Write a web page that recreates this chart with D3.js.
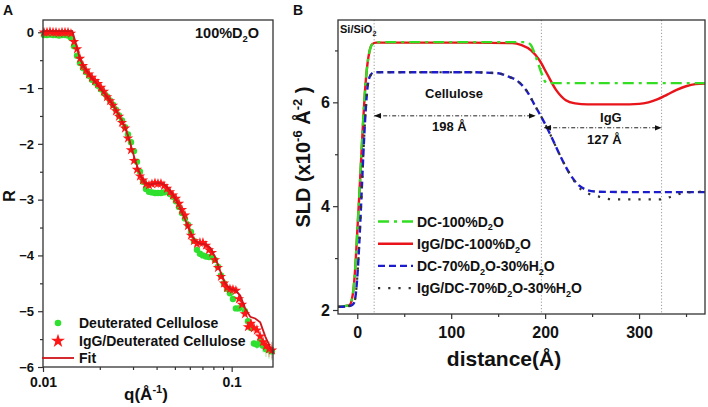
<!DOCTYPE html>
<html><head><meta charset="utf-8">
<script src="https://cdn.jsdelivr.net/npm/d3@7"></script>
<style>
body{margin:0;background:#fff}
text{font-family:"Liberation Sans",Arial,sans-serif;font-weight:bold;fill:#111}
</style>
</head><body>
<svg id="c" width="708" height="407"></svg>
<script>
// ---------- Panel A data (reflectivity, log q) ----------
const qValues = [0.01012,0.01050,0.01089,0.01130,0.01172,0.01216,0.01261,0.01308,0.01357,0.01407,0.01460,0.01514,0.01570,0.01629,0.01690,0.01753,0.01818,0.01886,0.01956,0.02029,0.02105,0.02183,0.02265,0.02349,0.02437,0.02528,0.02622,0.02720,0.02821,0.02926,0.03035,0.03148,0.03266,0.03387,0.03514,0.03645,0.03781,0.03922,0.04068,0.04219,0.04377,0.04540,0.04709,0.04885,0.05067,0.05256,0.05451,0.05655,0.05865,0.06084,0.06311,0.06546,0.06790,0.07043,0.07306,0.07578,0.07861,0.08154,0.08458,0.08773,0.09100,0.09439,0.09791,0.1016,0.1053,0.1093,0.1134,0.1176,0.1220,0.1265,0.1312,0.1361,0.1413,0.1465,0.1520,0.1577,0.1635];
const deuteratedR = [-0.05,-0.05,-0.04,-0.05,-0.05,-0.06,-0.05,-0.05,-0.06,-0.1,-0.25,-0.42,-0.55,-0.64,-0.71,-0.78,-0.85,-0.9,-0.96,-1.02,-1.09,-1.15,-1.22,-1.3,-1.39,-1.49,-1.58,-1.7,-1.83,-1.97,-2.13,-2.32,-2.5,-2.68,-2.81,-2.86,-2.87,-2.88,-2.88,-2.88,-2.87,-2.86,-2.9,-2.95,-3.03,-3.13,-3.24,-3.34,-3.45,-3.58,-3.74,-3.9,-3.97,-4.0,-4.02,-4.03,-4.03,-4.08,-4.2,-4.36,-4.5,-4.6,-4.68,-4.78,-4.95,-4.95,-4.9,-5.0,-5.18,-5.3,-5.58,-5.6,-5.55,-5.62,-5.68,-5.7,-5.72];
const iggR = [0.0,0.0,0.01,0.0,0.0,-0.01,0.0,0.0,0.0,-0.02,-0.17,-0.3,-0.47,-0.6,-0.68,-0.75,-0.81,-0.87,-0.92,-0.99,-1.06,-1.16,-1.23,-1.31,-1.41,-1.51,-1.62,-1.72,-1.9,-2.11,-2.3,-2.46,-2.58,-2.65,-2.72,-2.74,-2.72,-2.7,-2.71,-2.71,-2.75,-2.8,-2.86,-2.92,-2.98,-3.07,-3.18,-3.28,-3.47,-3.64,-3.74,-3.79,-3.77,-3.77,-3.82,-3.9,-3.95,-4.08,-4.22,-4.38,-4.5,-4.58,-4.6,-4.61,-4.63,-4.78,-4.88,-5.05,-5.28,-5.22,-5.3,-5.34,-5.45,-5.55,-5.62,-5.68,-5.7];
// error bars for the last points of each data set
const iggErrTail = [0.05,0.06,0.08,0.08,0.1,0.1,0.12,0.12,0.14,0.15];
const deutErrTail = [0.05,0.06,0.08,0.1,0.12,0.14,0.15,0.16];
const fitQ = [0.0100,0.0143,0.0148,0.0156,0.0163,0.0177,0.0201,0.0226,0.0244,0.0256,0.0272,0.0289,0.0307,0.0327,0.0347,0.0369,0.0393,0.0417,0.0444,0.0472,0.0501,0.0533,0.0567,0.0602,0.0640,0.0681,0.0723,0.0769,0.0817,0.0869,0.0924,0.0982,0.1044,0.1110,0.1179,0.1254,0.1333,0.1417,0.1506,0.1601,0.1656];
const fitR = [0.02,0.02,-0.15,-0.45,-0.6,-0.77,-1.0,-1.22,-1.4,-1.52,-1.7,-1.97,-2.28,-2.55,-2.7,-2.73,-2.71,-2.7,-2.74,-2.84,-2.97,-3.15,-3.36,-3.58,-3.74,-3.79,-3.8,-3.86,-4.03,-4.28,-4.5,-4.6,-4.62,-4.72,-4.95,-5.1,-5.13,-5.2,-5.45,-5.65,-5.76];
const aYTicks = [0,-1,-2,-3,-4,-5,-6];
const aXTicks = [0.01,0.1];
const aXTickLabels = ["0.01","0.1"];

// ---------- Panel B data (SLD profiles) ----------
const dcD2oX = [-20.5,-12,-8,-6,-4,-2,0,2,4,6,8,10,13,16,20,60,120,180,185,188,192,196,200,203,250,300,370.2];
const dcD2oY = [2.06,2.08,2.1,2.18,2.4,2.85,3.5,4.15,4.85,5.55,6.15,6.6,6.98,7.12,7.16,7.16,7.16,7.16,7.1,6.98,6.78,6.57,6.4,6.37,6.37,6.37,6.37];
const iggD2oX = [-20.5,-12,-8,-6,-4,-2,0,2,4,6,8,10,13,16,20,60,120,165,175,185,194,202,212,222,232,245,280,300,310,320,330,340,350,360,370.2];
const iggD2oY = [2.06,2.08,2.1,2.18,2.4,2.85,3.5,4.15,4.85,5.55,6.15,6.6,6.98,7.12,7.15,7.15,7.15,7.14,7.1,7.0,6.81,6.55,6.23,6.04,5.98,5.96,5.96,5.97,6.0,6.06,6.15,6.24,6.31,6.35,6.36];
const dcMixX = [-20.5,-12,-6,-3,-1,1,3,5,7,9,11,14,18,60,120,150,160,170,180,190,196,205,215,226,236,245,255,300,370.2];
const dcMixY = [2.06,2.07,2.09,2.15,2.4,2.9,3.6,4.4,5.2,5.85,6.3,6.52,6.58,6.58,6.58,6.56,6.5,6.42,6.23,5.91,5.72,5.4,5.01,4.63,4.4,4.31,4.28,4.27,4.27];
const iggMixX = [-20.5,-12,-6,-3,-1,1,3,5,7,9,11,14,18,60,120,150,160,170,180,190,196,205,215,226,236,245,258,272,300,322,330,338,346,355,370.2];
const iggMixY = [2.06,2.07,2.09,2.15,2.4,2.9,3.6,4.4,5.2,5.85,6.3,6.52,6.58,6.58,6.58,6.56,6.5,6.42,6.23,5.91,5.72,5.4,5.01,4.63,4.36,4.25,4.18,4.13,4.13,4.13,4.16,4.21,4.25,4.27,4.28];
const bXTicks = [0,100,200,300];
const bXMinor = [50,150,250,350];
const bYTicks = [2,4,6];
const bYMinor = [3,5,7];
const layerBounds = [18,196,324];
const celluloseThickness = "198 Å";
const iggThickness = "127 Å";

const svg = d3.select("#c");
const FONT = '"Liberation Sans",Arial,sans-serif';

function rich(g, x, y, parts, size, anchor){
  const t = g.append("text").attr("x",x).attr("y",y).attr("font-size",size)
    .attr("text-anchor",anchor||"start");
  let shift = 0;
  parts.forEach(p=>{
    const s = p[0], k = p[1];
    const target = k==="sup" ? -size*0.42 : (k==="sub" ? size*0.28 : 0);
    t.append("tspan").attr("dy", target-shift).attr("font-size", k ? size*0.65 : size).text(s);
    shift = target;
  });
  return t;
}
function styleAxis(g){
  g.selectAll(".domain").remove();
  g.selectAll(".tick line").attr("stroke","#333").attr("stroke-width",1.2);
  g.selectAll("text").attr("fill","#111").style("font-family",FONT).style("font-weight","bold");
}

// ================= Panel A =================
const xA = d3.scaleLog().domain([0.01,0.1656]).range([43,273]);
const yA = d3.scaleLinear().domain([-6,0.22]).range([367,20]);
const gA = svg.append("g");

const axAy = gA.append("g").attr("transform","translate(43,0)")
  .call(d3.axisLeft(yA).tickValues(aYTicks).tickSize(5).tickPadding(4).tickFormat(d3.format("d")));
axAy.selectAll("text").attr("font-size",13);
styleAxis(axAy);
const axAyMinor = gA.append("g").attr("transform","translate(43,0)")
  .call(d3.axisLeft(yA).tickValues(d3.range(-5.5,0.1,1)).tickSize(3).tickFormat(""));
styleAxis(axAyMinor);
const axAx = gA.append("g").attr("transform","translate(0,367)")
  .call(d3.axisBottom(xA).tickValues(aXTicks).tickSize(5).tickPadding(5).tickFormat((d,i)=>aXTickLabels[i]));
axAx.selectAll("text").attr("font-size",14);
styleAxis(axAx);
const axAxMinor = gA.append("g").attr("transform","translate(0,367)")
  .call(d3.axisBottom(xA).tickValues([0.02,0.03,0.04,0.05,0.06,0.07,0.08,0.09]).tickSize(3).tickFormat(""));
styleAxis(axAxMinor);

// error bars
const nQ = qValues.length;
deutErrTail.forEach((e,i)=>{
  const idx = nQ - deutErrTail.length + i;
  gA.append("line").attr("x1",xA(qValues[idx])).attr("x2",xA(qValues[idx]))
    .attr("y1",yA(deuteratedR[idx]-e)).attr("y2",yA(deuteratedR[idx]+e))
    .attr("stroke","#8fe88f").attr("stroke-width",0.8);
});
iggErrTail.forEach((e,i)=>{
  const idx = nQ - iggErrTail.length + i;
  gA.append("line").attr("x1",xA(qValues[idx])).attr("x2",xA(qValues[idx]))
    .attr("y1",yA(iggR[idx]-e)).attr("y2",yA(iggR[idx]+e))
    .attr("stroke","#f08080").attr("stroke-width",0.8);
});

gA.append("g").selectAll("circle").data(qValues).join("circle")
  .attr("cx",d=>xA(d)).attr("cy",(d,i)=>yA(deuteratedR[i])).attr("r",3.2)
  .attr("fill","#2fe02f");
const star = d3.symbol().type(d3.symbolStar).size(34);
gA.append("g").selectAll("path").data(qValues).join("path")
  .attr("d",star).attr("transform",(d,i)=>`translate(${xA(d)},${yA(iggR[i])})`)
  .attr("fill","#ff1515");
gA.append("path").datum(fitQ.map((q,i)=>[q,fitR[i]]))
  .attr("d",d3.line().x(d=>xA(d[0])).y(d=>yA(d[1])))
  .attr("fill","none").attr("stroke","#d0141a").attr("stroke-width",1.8);

gA.append("rect").attr("x",43).attr("y",20).attr("width",230).attr("height",347)
  .attr("fill","none").attr("stroke","#333").attr("stroke-width",1.3);

// legend A
gA.append("circle").attr("cx",58).attr("cy",323).attr("r",3.3).attr("fill","#2fe02f");
gA.append("text").attr("x",79).attr("y",328).attr("font-size",14).text("Deuterated Cellulose");
gA.append("path").attr("d",d3.symbol().type(d3.symbolStar).size(60)).attr("transform","translate(58,341)").attr("fill","#ff1515");
gA.append("text").attr("x",79).attr("y",346).attr("font-size",14).text("IgG/Deuterated Cellulose");
gA.append("line").attr("x1",42).attr("x2",74).attr("y1",358).attr("y2",358).attr("stroke","#d0141a").attr("stroke-width",1.8);
gA.append("text").attr("x",79).attr("y",363).attr("font-size",14).text("Fit");

rich(gA, 195, 38, [["100%D"],["2","sub"],["O"]], 14.5);
gA.append("text").attr("x",3).attr("y",15).attr("font-size",14).text("A");
gA.append("text").attr("transform","translate(15,196) rotate(-90)").attr("text-anchor","middle").attr("font-size",16).text("R");
rich(gA, 146, 400, [["q(Å"],["-1","sup"],[")"]], 17, "middle");

// ================= Panel B =================
const xB = d3.scaleLinear().domain([-20.5,370.2]).range([338,705]);
const yB = d3.scaleLinear().domain([1.923,7.586]).range([314,20]);
const gB = svg.append("g");

const axBy = gB.append("g").attr("transform","translate(338,0)")
  .call(d3.axisLeft(yB).tickValues(bYTicks).tickSize(5).tickPadding(3).tickFormat(d3.format("d")));
axBy.selectAll("text").attr("font-size",16);
styleAxis(axBy);
const axByM = gB.append("g").attr("transform","translate(338,0)")
  .call(d3.axisLeft(yB).tickValues(bYMinor).tickSize(3).tickFormat(""));
styleAxis(axByM);
const axBx = gB.append("g").attr("transform","translate(0,314)")
  .call(d3.axisBottom(xB).tickValues(bXTicks).tickSize(5).tickPadding(8).tickFormat(d3.format("d")));
axBx.selectAll("text").attr("font-size",16);
styleAxis(axBx);
const axBxM = gB.append("g").attr("transform","translate(0,314)")
  .call(d3.axisBottom(xB).tickValues(bXMinor).tickSize(3).tickFormat(""));
styleAxis(axBxM);

gB.selectAll("line.vb").data(layerBounds).join("line").attr("class","vb")
  .attr("x1",d=>xB(d)).attr("x2",d=>xB(d)).attr("y1",20).attr("y2",314)
  .attr("stroke","#9a9a9a").attr("stroke-width",1).attr("stroke-dasharray","1.2,2");

const lineB = d3.line().x(d=>xB(d[0])).y(d=>yB(d[1])).curve(d3.curveMonotoneX);
const zip = (xs,ys)=>xs.map((x,i)=>[x,ys[i]]);
gB.append("path").datum(zip(iggD2oX,iggD2oY)).attr("d",lineB)
  .attr("fill","none").attr("stroke","#e8141a").attr("stroke-width",2.4);
gB.append("path").datum(zip(dcD2oX,dcD2oY)).attr("d",lineB)
  .attr("fill","none").attr("stroke","#33dd22").attr("stroke-width",2.4).attr("stroke-dasharray","11,5,3,5");
gB.append("path").datum(zip(dcMixX,dcMixY)).attr("d",lineB)
  .attr("fill","none").attr("stroke","#1c1ccc").attr("stroke-width",2.4).attr("stroke-dasharray","7,4");
gB.append("path").datum(zip(iggMixX,iggMixY)).attr("d",lineB)
  .attr("fill","none").attr("stroke","#333").attr("stroke-width",2.2).attr("stroke-dasharray","2.2,8");

gB.append("rect").attr("x",338).attr("y",20).attr("width",367).attr("height",294)
  .attr("fill","none").attr("stroke","#333").attr("stroke-width",1.3);

const defs = svg.append("defs");
defs.append("marker").attr("id","arr").attr("viewBox","0 0 10 10").attr("refX",10).attr("refY",5)
  .attr("markerWidth",7).attr("markerHeight",7).attr("markerUnits","userSpaceOnUse").attr("orient","auto-start-reverse")
  .append("path").attr("d","M0,1 L10,5 L0,9 Z").attr("fill","#111");
function arrow(x1,x2,yv){
  gB.append("line").attr("x1",xB(x1)).attr("x2",xB(x2)).attr("y1",yB(yv)).attr("y2",yB(yv))
    .attr("stroke","#222").attr("stroke-width",1).attr("stroke-dasharray","4,2,1,2")
    .attr("marker-start","url(#arr)").attr("marker-end","url(#arr)");
}
arrow(layerBounds[0], 190, 5.74);
arrow(199, layerBounds[2], 5.51);

gB.append("text").attr("x",xB(103)).attr("y",yB(6.09)).attr("text-anchor","middle").attr("font-size",13).text("Cellulose");
gB.append("text").attr("x",xB(98)).attr("y",yB(5.44)).attr("text-anchor","middle").attr("font-size",13).text(celluloseThickness);
gB.append("text").attr("x",xB(270)).attr("y",yB(5.63)).attr("text-anchor","middle").attr("font-size",13).text("IgG");
gB.append("text").attr("x",xB(263)).attr("y",yB(5.2)).attr("text-anchor","middle").attr("font-size",13).text(iggThickness);
rich(gB, 340, 33, [["Si/SiO"],["2","sub"]], 11);

const legB = [
  {parts:[["DC-100%D"],["2","sub"],["O"]], color:"#33dd22", dash:"11,5,3,5", w:2.4},
  {parts:[["IgG/DC-100%D"],["2","sub"],["O"]], color:"#e8141a", dash:null, w:2.4},
  {parts:[["DC-70%D"],["2","sub"],["O-30%H"],["2","sub"],["O"]], color:"#1c1ccc", dash:"7,4", w:2.4},
  {parts:[["IgG/DC-70%D"],["2","sub"],["O-30%H"],["2","sub"],["O"]], color:"#333", dash:"2.2,8", w:2.2},
];
legB.forEach((d,i)=>{
  const yy = 221.5 + i*22.2;
  const l = gB.append("line").attr("x1",378).attr("x2",413).attr("y1",yy).attr("y2",yy)
    .attr("stroke",d.color).attr("stroke-width",d.w);
  if(d.dash) l.attr("stroke-dasharray",d.dash);
  rich(gB, 417, yy+5, d.parts, 14);
});

gB.append("text").attr("x",293).attr("y",15).attr("font-size",14).text("B");
rich(gB, 504, 366, [["distance(Å)"]], 21, "middle");
const sld = rich(gB, 0, 0, [["SLD (x10"],["-6","sup"],[" Å"],["-2","sup"],[" )"]], 20, "middle");
sld.attr("transform","translate(310,157) rotate(-90)");
</script>
</body></html>
